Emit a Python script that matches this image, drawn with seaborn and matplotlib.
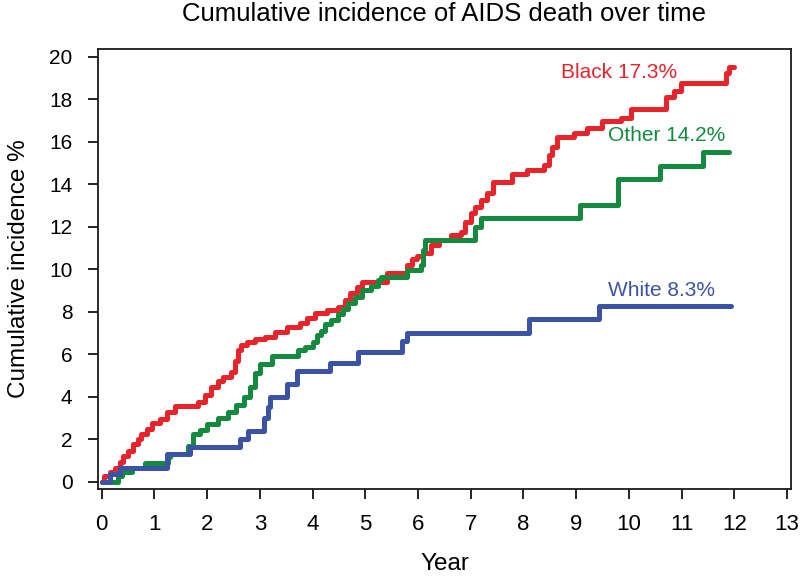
import matplotlib
matplotlib.use("Agg")
import matplotlib.pyplot as plt
import pandas as pd
import seaborn as sns

# Step curves (year, cumulative incidence %)
black_year = [0, 0.05, 0.15, 0.25, 0.34, 0.4, 0.5, 0.6, 0.69, 0.75, 0.85, 0.95, 1.1, 1.23,
              1.39, 1.83, 1.96, 2.08, 2.2, 2.3, 2.46, 2.53, 2.59, 2.65, 2.75, 2.91, 3.1,
              3.29, 3.51, 3.76, 3.89, 4.05, 4.27, 4.49, 4.62, 4.71, 4.84, 4.94, 5.41, 5.79,
              5.89, 5.98, 6.1, 6.24, 6.39, 6.62, 6.81, 6.9, 7.0, 7.09, 7.19, 7.31, 7.43,
              7.79, 8.07, 8.39, 8.48, 8.55, 8.64, 8.96, 9.21, 9.5, 9.85, 10.04, 10.7,
              10.86, 10.99, 11.84, 11.9, 12.0]
black_pct = [0, 0.28, 0.44, 0.67, 0.91, 1.23, 1.46, 1.78, 2.0, 2.26, 2.5, 2.75, 2.97, 3.27,
             3.58, 3.74, 4.06, 4.45, 4.76, 4.92, 5.16, 5.7, 6.18, 6.42, 6.57, 6.74, 6.8,
             7.04, 7.28, 7.45, 7.69, 7.92, 8.07, 8.22, 8.54, 8.87, 9.17, 9.42, 9.81, 10.19,
             10.5, 10.6, 10.75, 11.13, 11.37, 11.6, 11.76, 12.23, 12.64, 12.94, 13.25, 13.57,
             14.08, 14.5, 14.67, 14.9, 15.38, 15.77, 16.22, 16.4, 16.65, 16.95, 17.1, 17.55,
             18.1, 18.37, 18.78, 19.25, 19.5, 19.5]

other_year = [0, 0.3, 0.38, 0.57, 0.82, 1.25, 1.3, 1.63, 1.73, 1.87, 2.0, 2.2, 2.4, 2.55,
              2.7, 2.81, 2.9, 3.0, 3.23, 3.73, 3.85, 4.0, 4.08, 4.16, 4.24, 4.35, 4.49,
              4.58, 4.68, 4.8, 4.94, 5.1, 5.25, 5.3, 5.8, 6.05, 6.1, 6.14, 7.09, 7.19,
              7.28, 9.07, 9.8, 10.6, 11.4, 11.9]
other_pct = [0, 0.25, 0.45, 0.67, 0.9, 1.15, 1.3, 1.7, 2.26, 2.45, 2.7, 3.0, 3.3, 3.6,
             4.0, 4.45, 5.1, 5.55, 5.94, 6.2, 6.33, 6.57, 6.9, 7.1, 7.4, 7.6, 7.9,
             8.15, 8.4, 8.7, 9.0, 9.2, 9.48, 9.63, 9.95, 10.2, 10.9, 11.37, 12.0, 12.4,
             12.4, 13.0, 14.25, 14.86, 15.5, 15.5]

white_year = [0, 0.15, 0.34, 1.24, 1.68, 2.63, 2.78, 3.08, 3.15, 3.2, 3.52, 3.7, 4.33,
              4.87, 5.7, 5.8, 8.1, 9.43, 11.94]
white_pct = [0, 0.35, 0.65, 1.3, 1.65, 2.0, 2.4, 3.0, 3.5, 4.0, 4.6, 5.2, 5.6,
             6.1, 6.6, 7.0, 7.65, 8.27, 8.27]

groups = ["Black", "Other", "White"]
end_labels = ["Black 17.3%", "Other 14.2%", "White 8.3%"]
label_year = [8.72, 9.6, 9.6]
label_pct = [19.25, 16.3, 8.98]
colors = {"Black": "#E8232A", "Other": "#138A3E", "White": "#3A53A4"}

frames = []
for g, xs, ys in [("Black", black_year, black_pct),
                  ("Other", other_year, other_pct),
                  ("White", white_year, white_pct)]:
    frames.append(pd.DataFrame({"Year": xs, "pct": ys, "group": g}))
df = pd.concat(frames, ignore_index=True)

sns.set_style("ticks")
plt.rcParams["font.family"] = ["Liberation Sans", "DejaVu Sans"]
plt.rcParams["text.color"] = "black"
plt.rcParams["axes.labelcolor"] = "black"
plt.rcParams["xtick.color"] = "black"
plt.rcParams["ytick.color"] = "black"

fig = plt.figure(figsize=(8, 5.79), dpi=100)
ax = fig.add_axes([0.1219, 0.1554, 0.8671, 0.76])

sns.lineplot(data=df, x="Year", y="pct", hue="group", palette=colors,
             estimator=None, sort=False, drawstyle="steps-post",
             linewidth=3.6, legend=False, ax=ax)

for g, lab, lx, ly in zip(groups, end_labels, label_year, label_pct):
    ax.text(lx, ly, lab, color=colors[g], fontsize=15, ha="left", va="center")

ax.set_xlim(-0.08, 13.08)
ax.set_ylim(-0.34, 20.36)
ax.set_xticks(range(0, 14))
ax.set_yticks(range(0, 21, 2))
ax.tick_params(axis="x", labelsize=16, length=7, width=1.2, pad=11)
ax.tick_params(axis="y", labelsize=15, length=7, width=1.2, pad=11)
for s in ax.spines.values():
    s.set_visible(True)
    s.set_linewidth(1.3)
    s.set_color("#1a1a1a")

ax.set_xlabel("Year", fontsize=17.5, labelpad=13)
ax.set_ylabel("Cumulative incidence %", fontsize=17.5, labelpad=14)
ax.set_title("Cumulative incidence of AIDS death over time", fontsize=18.5, pad=20)

fig.savefig("out.png", dpi=100)
